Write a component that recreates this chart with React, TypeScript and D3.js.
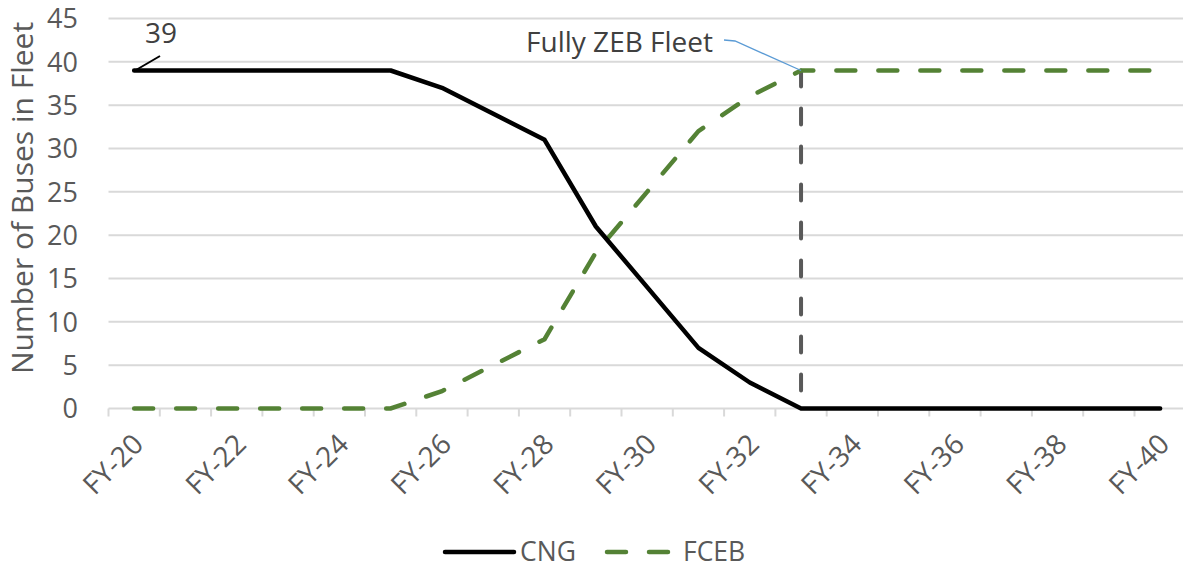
import React from "react";
import * as d3 from "d3";

const years: string[] = [
  "FY-20", "FY-21", "FY-22", "FY-23", "FY-24", "FY-25", "FY-26", "FY-27", "FY-28", "FY-29", "FY-30",
  "FY-31", "FY-32", "FY-33", "FY-34", "FY-35", "FY-36", "FY-37", "FY-38", "FY-39", "FY-40",
];
const cngBuses: number[] = [39, 39, 39, 39, 39, 39, 37, 34, 31, 21, 14, 7, 3, 0, 0, 0, 0, 0, 0, 0, 0];
const fcebBuses: number[] = [0, 0, 0, 0, 0, 0, 2, 5, 8, 18, 25, 32, 36, 39, 39, 39, 39, 39, 39, 39, 39];
const yTicks: number[] = [0, 5, 10, 15, 20, 25, 30, 35, 40, 45];
const zebYear = "FY-33";

const W = 1183;
const H = 569;
const FONT = "'Open Sans', 'Noto Sans', sans-serif";
const TEXT = "#595959";
const GRID = "#d9d9d9";
const GREEN = "#548235";

export default function App() {
  const x = d3.scaleBand<string>().domain(years).range([108.5, 108.5 + 21 * 51.3]);
  const y = d3.scaleLinear().domain([0, 45]).range([408.5, 18.5]);
  const cx = (c: string) => (x(c) as number) + x.bandwidth() / 2;

  const line = d3
    .line<number>()
    .x((_, i) => cx(years[i]))
    .y((d) => y(d));

  const boundaries = years.map((c) => x(c) as number).concat([(x(years[20]) as number) + x.bandwidth()]);
  const zx = cx(zebYear);
  const zIdx = years.indexOf(zebYear);

  return (
    <svg width={W} height={H} style={{ position: "absolute", left: 0, top: 0, background: "#fff" }} fontFamily={FONT}>
      {/* horizontal gridlines */}
      {yTicks.map((t) => (
        <line key={t} x1={108.5} x2={W} y1={y(t)} y2={y(t)} stroke={GRID} strokeWidth={2} />
      ))}
      {/* category tick marks */}
      {boundaries.map((b, i) => (
        <line key={i} x1={b} x2={b} y1={y(0)} y2={y(0) + 8} stroke={GRID} strokeWidth={2} />
      ))}
      {/* y tick labels */}
      {yTicks.map((t) => (
        <text key={t} x={78} y={y(t)} dy="0.36em" textAnchor="end" fontSize={27} fill={TEXT}>
          {t}
        </text>
      ))}
      {/* x labels */}
      {years.filter((_, i) => i % 2 === 0).map((c) => (
        <text
          key={c}
          transform={`translate(${cx(c) + 11},${446}) rotate(-45)`}
          textAnchor="end"
          fontSize={28}
          fill={TEXT}
        >
          {c}
        </text>
      ))}
      {/* y axis title */}
      <text transform={`translate(32.5,${198}) rotate(-90)`} textAnchor="middle" fontSize={30} fill={TEXT}>
        Number of Buses in Fleet
      </text>

      {/* fully ZEB marker */}
      <line x1={zx} x2={zx} y1={y(fcebBuses[zIdx])} y2={y(0)} stroke="#595959" strokeWidth={4} strokeDasharray="16 22" strokeLinecap="round" />

      {/* series */}
      <path d={line(fcebBuses) ?? ""} fill="none" stroke={GREEN} strokeWidth={4.5} strokeDasharray="19 23" strokeLinecap="round" />
      <path d={line(cngBuses) ?? ""} fill="none" stroke="#000" strokeWidth={4.5} strokeLinejoin="round" strokeLinecap="round" />

      {/* annotations */}
      <line x1={cx(years[0]) + 1} y1={y(cngBuses[0])} x2={160} y2={56} stroke="#000" strokeWidth={2} />
      <text x={161} y={43} textAnchor="middle" fontSize={28} fill="#404040">
        {cngBuses[0]}
      </text>
      <polyline points={`${724},${40} ${735},${41} ${zx},${y(fcebBuses[zIdx])}`} fill="none" stroke="#5b9bd5" strokeWidth={1.3} />
      <text x={713} y={52} textAnchor="end" fontSize={28} fill="#404040">
        Fully ZEB Fleet
      </text>

      {/* legend */}
      <line x1={445} x2={514} y1={552} y2={552} stroke="#000" strokeWidth={4.5} strokeLinecap="round" />
      <text x={520} y={560.5} fontSize={26.5} fill={TEXT}>CNG</text>
      <line x1={607} x2={669} y1={552} y2={552} stroke={GREEN} strokeWidth={4.5} strokeDasharray="19 23" strokeLinecap="round" />
      <text x={683} y={560.5} fontSize={26.5} fill={TEXT}>FCEB</text>
    </svg>
  );
}
